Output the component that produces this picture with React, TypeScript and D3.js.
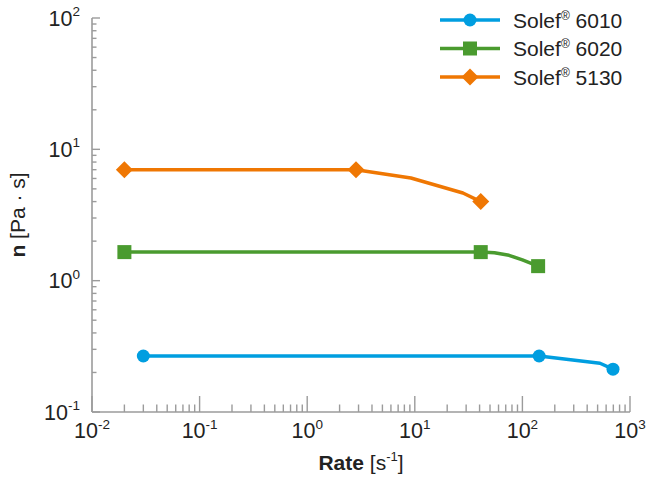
import React from "react";
import * as d3 from "d3";

// Shear rate [1/s] and viscosity [Pa·s] per grade
const rate6010 = [0.03, 143, 526, 695];
const visc6010 = [0.267, 0.267, 0.235, 0.212];
const marked6010 = [true, true, false, true];

const rate6020 = [0.02, 41, 55, 75, 100, 140];
const visc6020 = [1.65, 1.65, 1.63, 1.56, 1.44, 1.29];
const marked6020 = [true, true, false, false, false, true];

const rate5130 = [0.02, 2.84, 9.2, 28, 41];
const visc5130 = [7.0, 7.0, 6.05, 4.65, 4.0];
const marked5130 = [true, true, false, false, true];

const legendNames = ["6010", "6020", "5130"];
const xExponents = [-2, -1, 0, 1, 2, 3];
const yExponents = [-1, 0, 1, 2];

const W = 651;
const H = 478;
const left = 92;
const right = 630;
const top = 18;
const bottom = 412;

const colors = ["#009ee0", "#4a9b2f", "#ef7703"];
const shapes = ["circle", "square", "diamond"];
const FONT = "'Liberation Sans', Arial, Helvetica, sans-serif";
const AXIS = "#9b9b9b";
const TEXT = "#222";

function Marker({ shape, x, y, color }: { shape: string; x: number; y: number; color: string }) {
  if (shape === "circle") return <circle cx={x} cy={y} r={6.5} fill={color} />;
  if (shape === "square") return <rect x={x - 7} y={y - 7} width={14} height={14} fill={color} />;
  const s = 8.5;
  return <path d={`M${x},${y - s}L${x + s},${y}L${x},${y + s}L${x - s},${y}Z`} fill={color} />;
}

export default function App() {
  const x = d3.scaleLog().domain([1e-2, 1e3]).range([left, right]);
  const y = d3.scaleLog().domain([1e-1, 1e2]).range([bottom, top]);

  const line = d3
    .line<[number, number]>()
    .x((d) => x(d[0]))
    .y((d) => y(d[1]))
    .curve(d3.curveLinear);

  const all = [
    { rate: rate6010, visc: visc6010, marked: marked6010 },
    { rate: rate6020, visc: visc6020, marked: marked6020 },
    { rate: rate5130, visc: visc5130, marked: marked5130 },
  ];

  const xMinor: number[] = [];
  for (let e = -2; e < 3; e++) for (let k = 2; k <= 9; k++) xMinor.push(k * Math.pow(10, e));
  const yMinor: number[] = [];
  for (let e = -1; e < 2; e++) for (let k = 2; k <= 9; k++) yMinor.push(k * Math.pow(10, e));

  return (
    <svg
      width={W}
      height={H}
      style={{ position: "absolute", left: 0, top: 0, display: "block", background: "#fff" }}
      fontFamily={FONT}
    >
      {/* axes */}
      <line x1={left} y1={top} x2={left} y2={bottom} stroke={AXIS} strokeWidth={1.6} />
      <line x1={left} y1={bottom} x2={right} y2={bottom} stroke={AXIS} strokeWidth={1.6} />
      {yExponents.map((e) => (
        <line key={"ym" + e} x1={left} x2={left + 8} y1={y(Math.pow(10, e))} y2={y(Math.pow(10, e))} stroke={AXIS} strokeWidth={1.4} />
      ))}
      {yMinor.map((v, i) => (
        <line key={"yn" + i} x1={left} x2={left + 4.5} y1={y(v)} y2={y(v)} stroke={AXIS} strokeWidth={1.4} />
      ))}
      {xExponents.map((e) => (
        <line key={"xm" + e} x1={x(Math.pow(10, e))} x2={x(Math.pow(10, e))} y1={bottom} y2={bottom - 16} stroke={AXIS} strokeWidth={1.4} />
      ))}
      {xMinor.map((v, i) => (
        <line key={"xn" + i} x1={x(v)} x2={x(v)} y1={bottom} y2={bottom - 7.5} stroke={AXIS} strokeWidth={1.4} />
      ))}

      {/* tick labels */}
      {yExponents.map((e) => (
        <text key={"yl" + e} x={80} y={y(Math.pow(10, e)) + 7.5} textAnchor="end" fontSize={21.5} fill={TEXT}>
          10
          <tspan fontSize={13.5} dy={-9.5}>
            {e}
          </tspan>
        </text>
      ))}
      {xExponents.map((e) => (
        <text key={"xl" + e} x={x(Math.pow(10, e))} y={438} textAnchor="middle" fontSize={21.5} fill={TEXT}>
          10
          <tspan fontSize={13.5} dy={-9.5}>
            {e}
          </tspan>
        </text>
      ))}

      {/* axis titles */}
      <text x={(left + right) / 2} y={470} textAnchor="middle" fontSize={21} fill={TEXT}>
        <tspan fontWeight="bold">Rate</tspan>
        <tspan> [s</tspan>
        <tspan fontSize={13} dy={-9}>-1</tspan>
        <tspan dy={9}>]</tspan>
      </text>
      <text transform={`translate(25,${(top + bottom) / 2}) rotate(-90)`} textAnchor="middle" fontSize={21} fill={TEXT}>
        <tspan fontWeight="bold">n</tspan>
        <tspan> [Pa · s]</tspan>
      </text>

      {/* series */}
      {all.map((s, i) => {
        const pts = s.rate.map((r, j) => [r, s.visc[j]] as [number, number]);
        return (
          <g key={"s" + i}>
            <path d={line(pts) || ""} fill="none" stroke={colors[i]} strokeWidth={3.5} strokeLinejoin="round" />
            {pts.map((p, j) =>
              s.marked[j] ? <Marker key={j} shape={shapes[i]} x={x(p[0])} y={y(p[1])} color={colors[i]} /> : null
            )}
          </g>
        );
      })}

      {/* legend */}
      {legendNames.map((n, i) => {
        const ly = 20 + i * 28.5;
        return (
          <g key={"lg" + i}>
            <line x1={440} x2={500} y1={ly} y2={ly} stroke={colors[i]} strokeWidth={3.5} />
            <Marker shape={shapes[i]} x={470} y={ly} color={colors[i]} />
            <text x={513} y={ly + 7.5} fontSize={21} fill={TEXT}>
              Solef
              <tspan fontSize={12} dy={-8}>®</tspan>
              <tspan dy={8}> {n}</tspan>
            </text>
          </g>
        );
      })}
    </svg>
  );
}
